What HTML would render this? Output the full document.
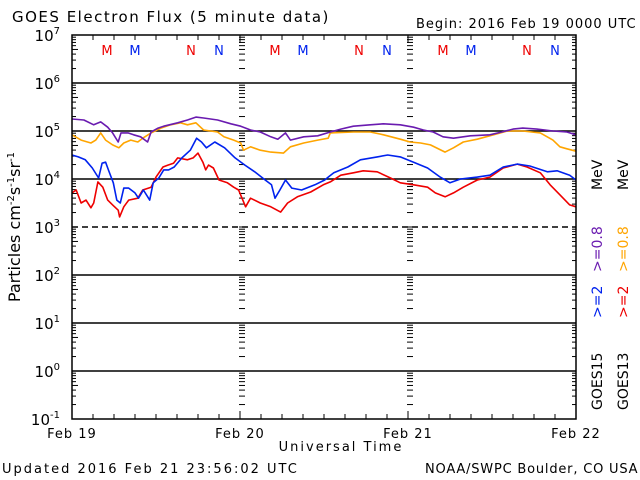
<!DOCTYPE html>
<html><head><meta charset="utf-8">
<style>
html,body{margin:0;padding:0;background:#fff;}
svg{display:block;font-family:"DejaVu Sans","Liberation Sans",sans-serif;}
</style></head>
<body>
<svg id="chart" width="640" height="480" viewBox="0 0 640 480" xmlns="http://www.w3.org/2000/svg">
<text x="12" y="22" font-size="15" letter-spacing="1.5" fill="#000">GOES Electron Flux (5 minute data)</text>
<text x="416" y="28" font-size="13" letter-spacing="1" fill="#000">Begin: 2016 Feb 19 0000 UTC</text>
<g id="grid"></g>
<g id="series"></g>
<rect x="72" y="35" width="504" height="384" fill="none" stroke="#000" stroke-width="1.5"/>
<text transform="translate(20,227) rotate(-90)" text-anchor="middle" font-size="16" fill="#000">Particles cm<tspan font-size="10" dy="-6">-2</tspan><tspan dy="6">s</tspan><tspan font-size="10" dy="-6">-1</tspan><tspan dy="6">sr</tspan><tspan font-size="10" dy="-6">-1</tspan></text>
<text x="341" y="451" text-anchor="middle" font-size="13" letter-spacing="2" fill="#000">Universal Time</text>
<text x="2" y="473" font-size="13" letter-spacing="2" fill="#000">Updated 2016 Feb 21 23:56:02 UTC</text>
<text x="425" y="473" font-size="13" letter-spacing="0.8" fill="#000">NOAA/SWPC Boulder, CO USA</text>
<g font-size="14">
<text transform="translate(602,410) rotate(-90)" fill="#000">GOES15</text>
<text transform="translate(602,318) rotate(-90)" fill="#0022ee">&gt;=2</text>
<text transform="translate(602,272) rotate(-90)" fill="#6a1bb0">&gt;=0.8</text>
<text transform="translate(602,190) rotate(-90)" fill="#000">MeV</text>
<text transform="translate(628,410) rotate(-90)" fill="#000">GOES13</text>
<text transform="translate(628,318) rotate(-90)" fill="#ee0000">&gt;=2</text>
<text transform="translate(628,272) rotate(-90)" fill="#ffa500">&gt;=0.8</text>
<text transform="translate(628,190) rotate(-90)" fill="#000">MeV</text>
</g>
</svg>
<script>
const dayLabels = ["Feb 19","Feb 20","Feb 21","Feb 22"];
const decadeExps = [-1,0,1,2,3,4,5,6,7];
const markerLetters = ["M","M","N","N"];
const markerHours = [5,9,17,21];
const markerColors = ["#ee0000","#0022ee","#ee0000","#0022ee"];
// log10 flux values vs hours since Feb 19 00 UTC
const purpleT = [0,1.7,3.1,4.1,5.1,5.8,6.6,7.0,8.0,8.8,9.8,10.8,11.3,12.3,13.1,15.1,16.5,17.7,18.8,20.8,22.7,24.1,25.5,26.9,28.4,29.4,30.5,31.2,33.1,35.1,36.9,38.4,40.2,42.6,44.5,46.9,48.8,50.2,51.6,53.0,54.5,56.9,59.7,61.4,63.0,64.4,66.4,68.7,70.7,72];
const purpleV = [5.25,5.23,5.13,5.19,5.08,4.96,4.77,4.96,4.96,4.92,4.88,4.77,4.98,5.06,5.10,5.17,5.23,5.29,5.27,5.23,5.15,5.10,5.02,4.98,4.88,4.83,4.96,4.81,4.88,4.90,4.98,5.04,5.10,5.13,5.15,5.13,5.08,5.02,4.98,4.88,4.85,4.90,4.92,4.98,5.04,5.06,5.04,5.00,4.98,4.92];
const orangeT = [0,1.3,2.7,3.4,4.1,4.8,5.8,6.7,7.4,8.4,9.4,10.1,11.3,12.7,14.1,15.5,16.5,17.7,18.8,20.8,21.7,23.1,24.1,24.5,25.5,26.9,28.4,30.2,31.2,33.1,35.1,36.6,36.9,40.2,42.6,44.5,46.9,48.3,49.8,51.2,53.3,54.5,55.9,57.9,60.2,62.2,64.4,66.9,68.7,69.7,70.7,72];
const orangeV = [4.92,4.81,4.75,4.81,4.96,4.81,4.71,4.65,4.75,4.81,4.77,4.85,4.96,5.06,5.13,5.17,5.13,5.17,5.02,4.98,4.88,4.81,4.75,4.60,4.67,4.60,4.56,4.54,4.67,4.75,4.81,4.85,4.96,4.98,4.98,4.92,4.83,4.77,4.75,4.71,4.56,4.65,4.77,4.83,4.92,5.00,5.00,4.96,4.81,4.67,4.63,4.58];
const blueT = [0,0.9,1.9,2.9,3.8,4.3,4.8,5.2,5.9,6.4,6.9,7.4,8.1,9.0,9.5,10.2,11.1,11.6,12.4,13.1,13.8,14.6,15.7,16.9,17.8,18.5,19.2,20.4,21.8,23.3,24.7,26.1,27.6,28.5,29.0,29.7,30.5,31.4,32.8,34.7,36.1,36.6,37.4,39.4,41.2,43.6,45.1,46.9,48.8,50.8,52.6,54.0,55.5,57.9,59.7,61.6,63.6,65.4,67.9,69.3,71.1,72];
const blueV = [4.50,4.46,4.40,4.23,4.02,4.33,4.35,4.19,3.92,3.56,3.50,3.81,3.81,3.71,3.60,3.77,3.56,3.92,4.02,4.19,4.19,4.25,4.44,4.60,4.85,4.77,4.65,4.77,4.65,4.44,4.29,4.15,3.98,3.88,3.60,3.77,3.98,3.81,3.77,3.88,3.98,4.04,4.13,4.25,4.40,4.46,4.50,4.46,4.35,4.23,4.04,3.92,4.00,4.04,4.08,4.25,4.31,4.27,4.15,4.17,4.08,3.98];
const redT = [0,0.6,1.3,2.0,2.7,3.1,3.7,4.4,5.1,5.8,6.6,6.8,7.4,8.1,9.4,10.1,11.3,12.0,13.0,13.7,14.5,15.1,16.5,17.3,18.0,18.7,19.1,19.5,20.2,21.0,22.2,23.1,23.8,24.4,24.8,25.5,26.9,28.4,29.8,30.8,32.2,34.1,35.9,36.9,38.4,40.2,41.6,43.6,45.5,46.9,48.8,50.8,51.9,53.3,54.5,55.9,57.9,59.7,61.6,63.6,65.0,66.9,68.3,69.7,71.1,72];
const redV = [3.71,3.77,3.50,3.56,3.40,3.50,3.94,3.83,3.56,3.46,3.35,3.21,3.42,3.56,3.60,3.77,3.83,4.04,4.25,4.29,4.33,4.44,4.40,4.44,4.54,4.35,4.19,4.29,4.23,3.98,3.92,3.83,3.77,3.56,3.42,3.60,3.50,3.42,3.31,3.50,3.63,3.73,3.88,3.94,4.08,4.13,4.17,4.15,4.02,3.92,3.88,3.83,3.71,3.63,3.71,3.83,3.98,4.04,4.23,4.31,4.25,4.13,3.88,3.67,3.46,3.42];

const NS = "http://www.w3.org/2000/svg";
const X0 = 72, PX_PER_HOUR = 7, YTOP = 35, DEC = 48, EXPTOP = 7;
function xScale(h){ return X0 + h*PX_PER_HOUR; }
function yScale(e){ return YTOP + (EXPTOP - e)*DEC; }
function mk(tag, attrs, parent){
  const el = document.createElementNS(NS, tag);
  for (const k in attrs) el.setAttribute(k, attrs[k]);
  parent.appendChild(el);
  return el;
}
const grid = document.getElementById('grid');
const svg = document.getElementById('chart');

decadeExps.forEach(e => {
  const y = yScale(e);
  if (e > -1 && e < 7) {
    const ln = mk('line', {x1:X0, x2:576, y1:y, y2:y, stroke:'#000', 'stroke-width':1.5}, grid);
    if (e === 3) ln.setAttribute('stroke-dasharray','6,4');
    
    
  }
  const t = mk('text', {x:60, y:y+6, 'text-anchor':'end', 'font-size':15, fill:'#000'}, svg);
  
  
  t.textContent = '10';
  const s = mk('tspan', {'font-size':10, dy:-7}, t);
  s.textContent = String(e);
  if (e < 7) {
    for (let m = 2; m <= 9; m++) {
      const ym = y - Math.log10(m)*DEC;
      const tl = mk('line', {x1:X0, x2:X0+(m===5?6:4), y1:ym, y2:ym, stroke:'#000'}, grid);
      
      
      const tr = mk('line', {x1:576-4, x2:576, y1:ym, y2:ym, stroke:'#000'}, grid);
      
      
      [1,2].forEach(d => {
        const xd = xScale(d*24);
        const td = mk('line', {x1:xd-1, x2:xd+5, y1:ym, y2:ym, stroke:'#000'}, grid);
        
        
      });
    }
    [1,2].forEach(d => {
      const xd = xScale(d*24);
      const td = mk('line', {x1:xd-1, x2:xd+5, y1:y, y2:y, stroke:'#000'}, grid);
      
      
    });
  }
});
for (let h = 3; h < 72; h += 3) {
  const x = xScale(h);
  const len = (h % 24 === 0) ? 8 : 5;
  const b = mk('line', {x1:x, x2:x, y1:419, y2:419-len, stroke:'#000'}, grid);
  
  
  const t = mk('line', {x1:x, x2:x, y1:35, y2:35+len, stroke:'#000'}, grid);
  
  
}
dayLabels.forEach((d, i) => {
  const t = mk('text', {x:xScale(i*24), y:438, 'text-anchor':'middle', 'font-size':13, 'letter-spacing':1, fill:'#000'}, svg);
  
  
  t.textContent = d;
});
for (let d = 0; d < 3; d++) {
  markerLetters.forEach((L, i) => {
    const t = mk('text', {x:xScale(d*24+markerHours[i]), y:55, 'text-anchor':'middle', 'font-size':13, fill:markerColors[i]}, svg);
    
    
    t.textContent = L;
  });
}
const sg = document.getElementById('series');
function drawSeries(T, V, color, name){
  const pts = T.map((h, i) => xScale(h).toFixed(1) + ',' + yScale(V[i]).toFixed(1)).join(' ');
  const pl = mk('polyline', {points:pts, fill:'none', stroke:color, 'stroke-width':1.6, 'stroke-linejoin':'round'}, sg);
  
  
}
drawSeries(orangeT, orangeV, '#ffa500', 'goes13-08mev-line');
drawSeries(purpleT, purpleV, '#6a1bb0', 'goes15-08mev-line');
drawSeries(redT, redV, '#ee0000', 'goes13-2mev-line');
drawSeries(blueT, blueV, '#0022ee', 'goes15-2mev-line');
</script>
</body></html>
